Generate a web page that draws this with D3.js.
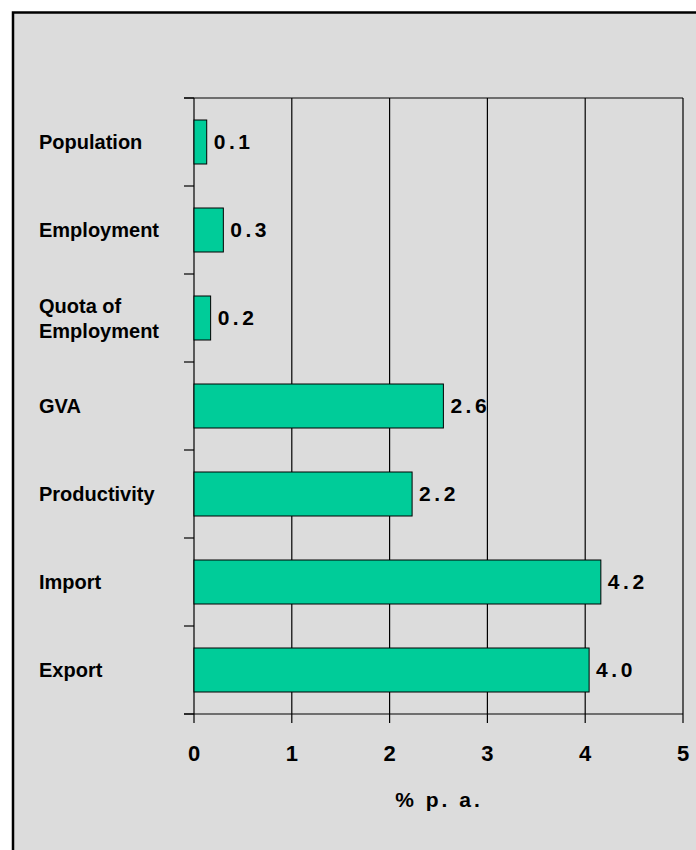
<!DOCTYPE html>
<html>
<head>
<meta charset="utf-8">
<script src="https://cdn.jsdelivr.net/npm/d3@7"></script>
<style>
  html, body { margin: 0; padding: 0; background: #ffffff; }
  svg { display: block; }
  text { font-family: "Liberation Sans", Arial, sans-serif; font-weight: bold; fill: #000; }
</style>
</head>
<body>
<script>
const categories = ["Population", "Employment", "Quota of\nEmployment", "GVA", "Productivity", "Import", "Export"];
const values = [0.13, 0.30, 0.17, 2.55, 2.23, 4.16, 4.04];
const valueLabels = ["0.1", "0.3", "0.2", "2.6", "2.2", "4.2", "4.0"];
const xTicks = [0, 1, 2, 3, 4, 5];
const xTitle = "% p. a.";

(function () {
const W = 696, H = 850;
const svg = d3.select("body").append("svg").attr("width", W).attr("height", H);

function spaced(sel, str, sp) {
  str.split("").forEach((ch, i) => {
    sel.append("tspan").attr("dx", i === 0 ? 0 : sp).text(ch);
  });
}

// panel
svg.append("rect").attr("x", 13).attr("y", 12.5).attr("width", W + 20).attr("height", H + 20)
  .attr("fill", "#dcdcdc").attr("stroke", "#000").attr("stroke-width", 2.5);

const pL = 194, pR = 683, pT = 98, pB = 714;
const x = d3.scaleLinear().domain([0, 5]).range([pL, pR]);
const y = d3.scaleBand().domain(categories).range([pT, pB]).paddingInner(0.5).paddingOuter(0.25);

const g = svg.append("g");

// vertical gridlines (with outward ticks)
g.selectAll("line.grid").data(xTicks).enter().append("line")
  .attr("x1", d => x(d)).attr("x2", d => x(d))
  .attr("y1", pT).attr("y2", pB + 9)
  .attr("stroke", "#000").attr("stroke-width", 1.2);

// top and bottom horizontal lines
[pT, pB].forEach(yy => {
  g.append("line").attr("x1", pL - 10).attr("x2", pR).attr("y1", yy).attr("y2", yy)
    .attr("stroke", "#000").attr("stroke-width", 1.2);
});

// left category boundary ticks
const step = y.step();
const boundaries = d3.range(categories.length + 1).map(i => pT + i * step);
g.selectAll("line.ytick").data(boundaries).enter().append("line")
  .attr("x1", pL - 10).attr("x2", pL)
  .attr("y1", d => d).attr("y2", d => d)
  .attr("stroke", "#000").attr("stroke-width", 1.2);

// bars
g.selectAll("rect.bar").data(categories).enter().append("rect")
  .attr("x", x(0))
  .attr("y", d => y(d))
  .attr("width", (d, i) => x(values[i]) - x(0))
  .attr("height", y.bandwidth())
  .attr("fill", "#00cc99").attr("stroke", "#000").attr("stroke-width", 1);

// value labels
categories.forEach((c, i) => {
  const t = g.append("text")
    .attr("x", x(values[i]) + 7)
    .attr("y", y(c) + y.bandwidth() / 2)
    .attr("dy", "0.35em")
    .attr("font-size", 21);
  spaced(t, valueLabels[i], 3.5);
});

// category labels
categories.forEach(c => {
  const lines = c.split("\n");
  const lh = 25;
  const cy = y(c) + y.bandwidth() / 2;
  const t = g.append("text").attr("x", 39).attr("font-size", 20);
  lines.forEach((ln, j) => {
    t.append("tspan").attr("x", 39)
      .attr("y", cy + (j - (lines.length - 1) / 2) * lh)
      .attr("dy", "0.35em").text(ln);
  });
});

// x tick labels
g.selectAll("text.xt").data(xTicks).enter().append("text")
  .attr("x", d => x(d)).attr("y", 753).attr("dy", "0.35em")
  .attr("text-anchor", "middle").attr("font-size", 22)
  .text(d => d);

// x title
const tt = g.append("text").attr("x", (pL + pR) / 2 - 1).attr("y", 800).attr("dy", "0.35em")
  .attr("text-anchor", "middle").attr("font-size", 21);
spaced(tt, xTitle, 3);
})();
</script>
</body>
</html>
